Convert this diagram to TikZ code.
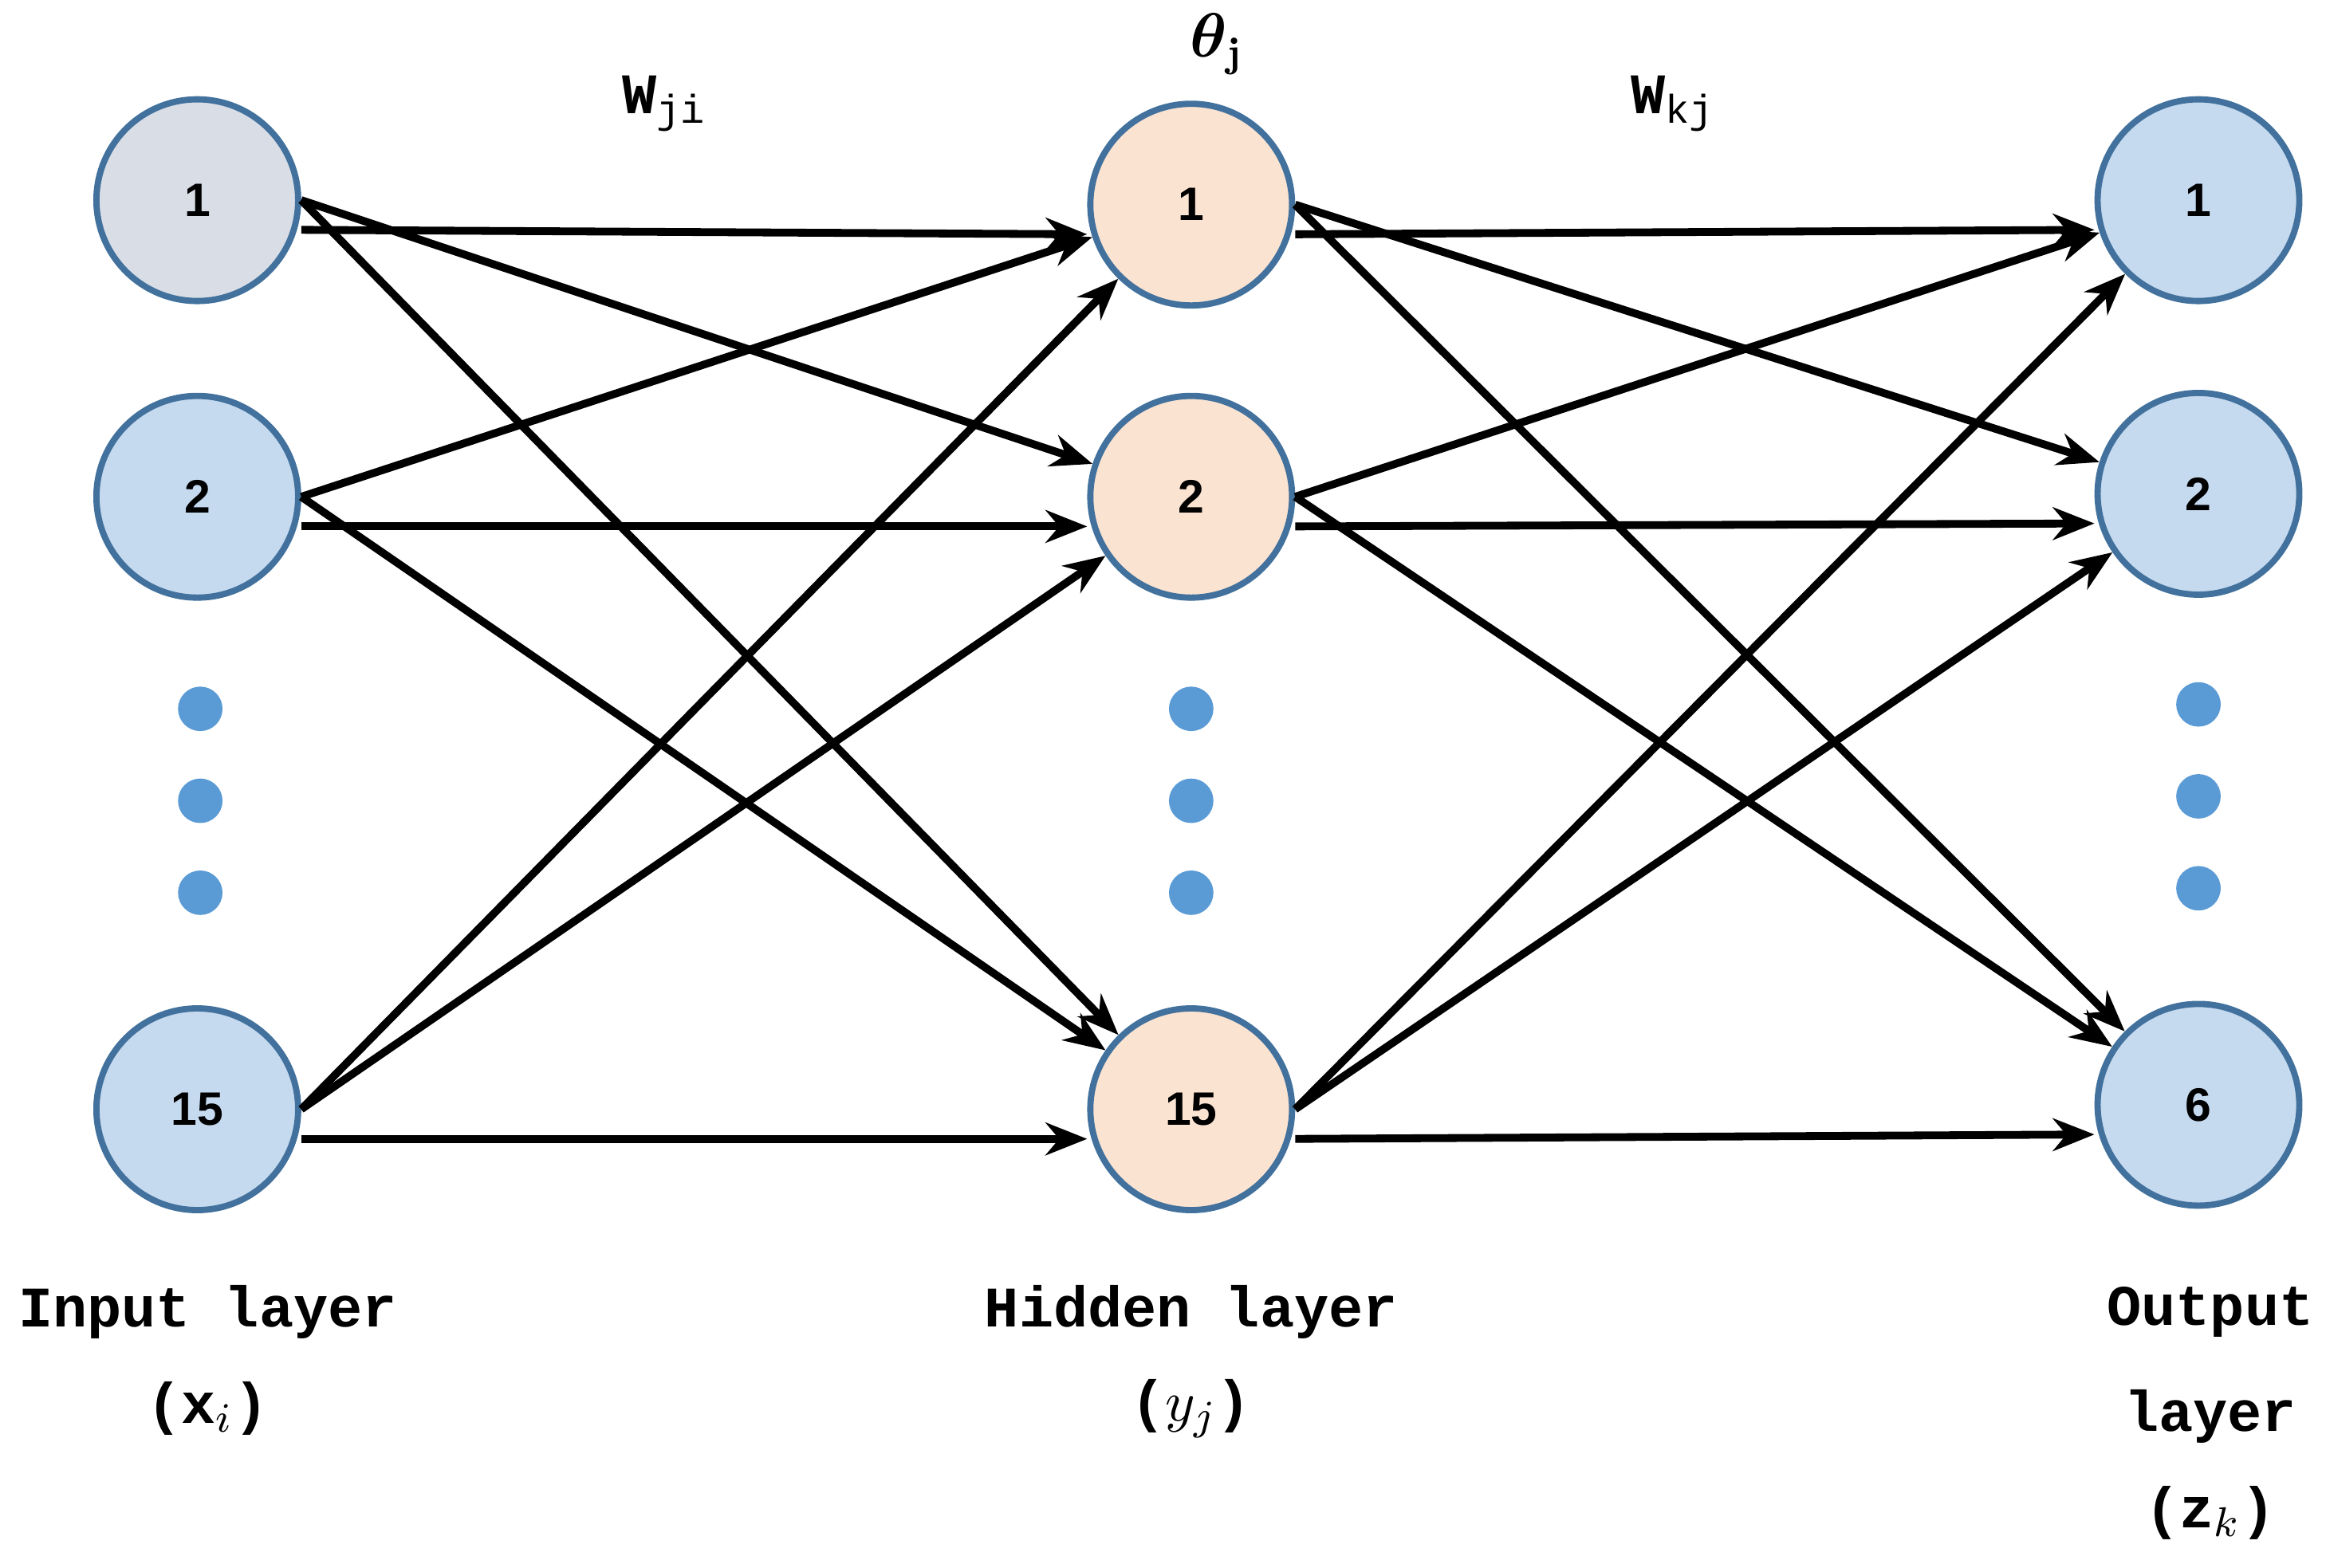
\documentclass[tikz,border=0pt]{standalone}
\usepackage{amsmath}
\usepackage{amssymb}
\usepackage{fontspec}
\setmonofont{Liberation Mono}
\setsansfont{Liberation Sans}
\usetikzlibrary{arrows.meta}
\definecolor{inblue}{HTML}{C5D9EF}
\definecolor{ingray}{HTML}{D9DDE6}
\definecolor{hidpeach}{HTML}{FBE3D2}
\definecolor{rimblue}{HTML}{41719C}
\definecolor{dotblue}{HTML}{5B9BD5}
\tikzset{neuron/.style={circle, draw=rimblue, line width=1.2pt, minimum size=1.36cm, inner sep=0pt, font=\sffamily\bfseries\small},
  dot/.style={circle, fill=dotblue, minimum size=0.3cm, inner sep=0pt},
  arrow/.style={-{Stealth[length=0.28cm,width=0.22cm]}, line width=1.5pt},
  lbl/.style={font=\fontsize{11}{13}\selectfont\ttfamily\bfseries}}

\begin{document}
\begin{tikzpicture}
        \useasboundingbox (0,0) rectangle (15.68,10.57);
        % input layer
        \node[neuron, fill=ingray] (i1) at (1.33,9.22) {1};
        \node[neuron, fill=inblue] (i2) at (1.33,7.22) {2};
        \node[neuron, fill=inblue] (i3) at (1.33,3.09) {15};
        % hidden layer
        \node[neuron, fill=hidpeach] (h1) at (8.03,9.19) {1};
        \node[neuron, fill=hidpeach] (h2) at (8.03,7.22) {2};
        \node[neuron, fill=hidpeach] (h3) at (8.03,3.09) {15};
        % output layer
        \node[neuron, fill=inblue] (o1) at (14.82,9.22) {1};
        \node[neuron, fill=inblue] (o2) at (14.82,7.24) {2};
        \node[neuron, fill=inblue] (o3) at (14.82,3.12) {6};
        % dots
        \foreach \y [count=\n] in {5.79,5.17,4.55} {
          \node[dot] (di\n) at (1.35,\y) {};
          \node[dot] (dh\n) at (8.03,\y) {};
          \node[dot] (do\n) at (14.82,\y+0.03) {};
        }
        % connections
        \foreach \a/\b in {i1/h1,i2/h2,i3/h3,h1/o1,h2/o2,h3/o3}
          \draw[arrow] ([yshift=-0.2cm]\a.east) -- ([yshift=-0.2cm]\b.west);
        \foreach \a/\b in {i1/h2,i1/h3,i2/h1,i2/h3,i3/h1,i3/h2,h1/o2,h1/o3,h2/o1,h2/o3,h3/o1,h3/o2}
          \draw[arrow] (\a.east) -- (\b);
        % labels
        \node[lbl] (wji) at (4.48,9.87) {W$_{\mathtt{ji}}$};
        \node[font=\bfseries\large] (theta) at (8.2,10.27) {$\boldsymbol\theta_{\mathbf j}$};
        \node[lbl] (wkj) at (11.28,9.87) {W$_{\mathtt{kj}}$};
        \node[lbl] (li) at (1.40,1.72) {Input layer};
        \node[lbl] (lix) at (1.40,1.07) {(x$_i$)};
        \node[lbl] (lh) at (8.03,1.72) {Hidden layer};
        \node[lbl] (lhy) at (8.03,1.07) {($y_j$)};
        \node[lbl] (lo) at (14.90,1.72) {Output};
        \node[lbl] (lo2) at (14.90,1.02) {layer};
        \node[lbl] (loz) at (14.90,0.37) {(z$_k$)};
\end{tikzpicture}
\end{document}
